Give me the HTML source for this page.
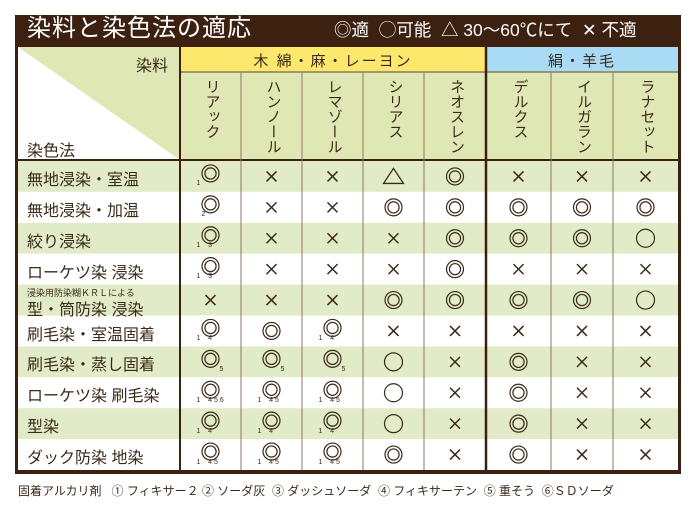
<!DOCTYPE html>
<html><head><meta charset="utf-8">
<style>
body{margin:0;background:#fff;width:694px;height:506px;overflow:hidden;font-family:"Liberation Sans","Noto Sans CJK JP",sans-serif;color:#3a2a1a}
#root{position:relative;width:694px;height:506px}
.a{position:absolute}
.vt{writing-mode:vertical-rl;font-size:15px;letter-spacing:0px;color:#3a2a1a}
.rl{font-size:15px;color:#3a2a1a;white-space:nowrap}
.sub{font-size:7px;font-family:"Liberation Sans",sans-serif;color:#3a2a1a;white-space:pre}
</style></head><body>
<div id="root">
<svg id="bg" class="a" style="left:0;top:0" width="694" height="506"></svg>
<div class="a" style="left:27px;top:14px;font-size:24px;color:#fff;letter-spacing:1px;line-height:30px">染料と染色法の適応</div>
<div class="a" style="left:334px;top:17px;font-size:17.5px;color:#fff;white-space:nowrap;line-height:26px">◎適&nbsp;&nbsp;◯可能&nbsp;&nbsp;△ 30〜60℃にて&nbsp;&nbsp;✕ 不適</div>
<div class="a" style="left:18px;top:482px;font-size:12px;white-space:nowrap">固着アルカリ剤&nbsp;&nbsp;&nbsp;① フィキサー２ ② ソーダ灰&nbsp;&nbsp;③ ダッシュソーダ&nbsp;&nbsp;④ フィキサーテン&nbsp;&nbsp;⑤ 重そう&nbsp;&nbsp;⑥ＳＤソーダ</div>
</div>
<script>
const dyes=["リアック","ハンノール","レマゾール","シリアス","ネオスレン","デルクス","イルガラン","ラナセット"];
const groups=["木 綿・麻・レーヨン","絹・羊毛"];
const methods=["無地浸染・室温","無地浸染・加温","絞り浸染","ローケツ染 浸染","型・筒防染 浸染","刷毛染・室温固着","刷毛染・蒸し固着","ローケツ染 刷毛染","型染","ダック防染 地染"];
const marks=[
"DXXTDXXX","DXXDDDDD","DXXXDDDO","DXXXDXXX","XXXDDDDO",
"DDDXXXXX","DDDOXDXX","DDDOXDXX","DDDOXDXX","DDDDXDXX"];
const subs=[
["1","","","","","","",""],["2","","","","","","",""],["1 3","","","","","","",""],["1 3","","","","","","",""],
["","","","","","","",""],["1 4","","1 4","","","","",""],["5","5","5","","","","",""],
["1 456","1 45","1 45","","","","",""],["1 4","1 4","1 4","","","","",""],["1 45","1 45","1 45","","","","",""]];
const colX=[180,241,302,363,424,486,551,613,678];
const rowTop=161,rowH=30.9;
const root=document.getElementById('root'),svg=document.getElementById('bg');
const NS="http://www.w3.org/2000/svg";
function S(t,a){const e=document.createElementNS(NS,t);for(const k in a)e.setAttribute(k,a[k]);svg.appendChild(e);return e;}
let e;
e=S('rect',{x:15,y:15,width:666,height:459,fill:'#3c2010'});


e=S('rect',{x:18,y:47,width:660,height:423,fill:'#fff'});
e=S('polygon',{points:'18,47 180,47 180,160',fill:'#dfe8b4'});


e=S('rect',{x:180,y:47,width:306,height:25,fill:'#fde86e'});


e=S('rect',{x:486,y:47,width:192,height:25,fill:'#a9dbf4'});


e=S('rect',{x:180,y:72,width:498,height:88,fill:'#dfe8b4'});
methods.forEach((m,i)=>{
  const y=rowTop+i*rowH;
  e=S('rect',{x:18,y:y,width:660,height:rowH,fill:i%2==0?'#e2ebc7':'#fff'});
  
  
});
S('line',{x1:180,y1:72,x2:678,y2:72,stroke:'#8a7a5a','stroke-width':1.5});
S('line',{x1:18,y1:160,x2:678,y2:160,stroke:'#3c2010','stroke-width':2});
for(let c=1;c<colX.length-1;c++){
  const thick=colX[c]==486;
  S('line',{x1:colX[c],y1:thick?47:72,x2:colX[c],y2:470,stroke:thick?'#3c2010':'#8a7a62','stroke-width':thick?2.5:1});
}
S('line',{x1:180,y1:47,x2:180,y2:470,stroke:'#3c2010','stroke-width':2});
function div(cls,style,text,name){const d=document.createElement('div');d.className='a '+cls;d.setAttribute('style',style);d.textContent=text;root.appendChild(d);return d;}
let d;
d=div('rl','left:136px;top:52px;font-size:16px','染料','header-dye');
d=div('rl','left:27px;top:137px;font-size:16px','染色法','header-method');
d=div('rl','left:180px;top:50px;width:306px;text-align:center;letter-spacing:2px','木 綿・麻・レーヨン','group-label');
d=div('rl','left:486px;top:50px;width:192px;text-align:center;letter-spacing:2px','絹・羊毛','group-label');
dyes.forEach((n,c)=>{
  const cx=(colX[c]+colX[c+1])/2;
  d=div('vt','left:'+(cx-9)+'px;top:79px',n,'dye-name');
});
methods.forEach((m,i)=>{
  const y=rowTop+i*rowH;
  if(i==4){
    d=div('rl','left:27px;top:'+(y+1)+'px;font-size:9px','浸染用防染糊ＫＲＬによる','method-note');
    d=div('rl','left:27px;top:'+(y+11)+'px;font-size:16px','型・筒防染 浸染','method-label');
  } else {
    d=div('rl','left:27px;top:'+(y+5)+'px;font-size:16px',m,'method-label');
  }
  for(let c=0;c<dyes.length;c++){
    const cx=(colX[c]+colX[c+1])/2;
    const s=subs[i][c];
    const cy=y+rowH/2-(s?3:0);
    const k=marks[i][c];
    let g;
    if(k=='D'){
      g=S('circle',{cx:cx,cy:cy,r:8.5,fill:'none',stroke:'#3a2a1a','stroke-width':1.2});
      S('circle',{cx:cx,cy:cy,r:5.6,fill:'none',stroke:'#3a2a1a','stroke-width':1.2});
    } else if(k=='O'){
      g=S('circle',{cx:cx,cy:cy,r:9,fill:'none',stroke:'#3a2a1a','stroke-width':1.2});
    } else if(k=='T'){
      g=S('polygon',{points:(cx-10)+','+(cy+7)+' '+cx+','+(cy-8)+' '+(cx+10)+','+(cy+7),fill:'none',stroke:'#3a2a1a','stroke-width':1.3});
    } else {
      g=S('path',{d:'M'+(cx-5)+' '+(cy-5)+'L'+(cx+5)+' '+(cy+5)+'M'+(cx+5)+' '+(cy-5)+'L'+(cx-5)+' '+(cy+5),stroke:'#3a2a1a','stroke-width':1.5});
    }
    
    
    if(s){
      let left=cx-14,txt=s;
      if(s=='5')left=cx+9;
      else if(s=='2')left=cx-9;
      else if(s.startsWith('1 ')){txt='1    '+s.slice(2).split('').join(' ');}
      d=div('sub','left:'+left+'px;top:'+(cy+7)+'px',txt,'alkali-code');
    }
  }
});
</script>
</body></html>
